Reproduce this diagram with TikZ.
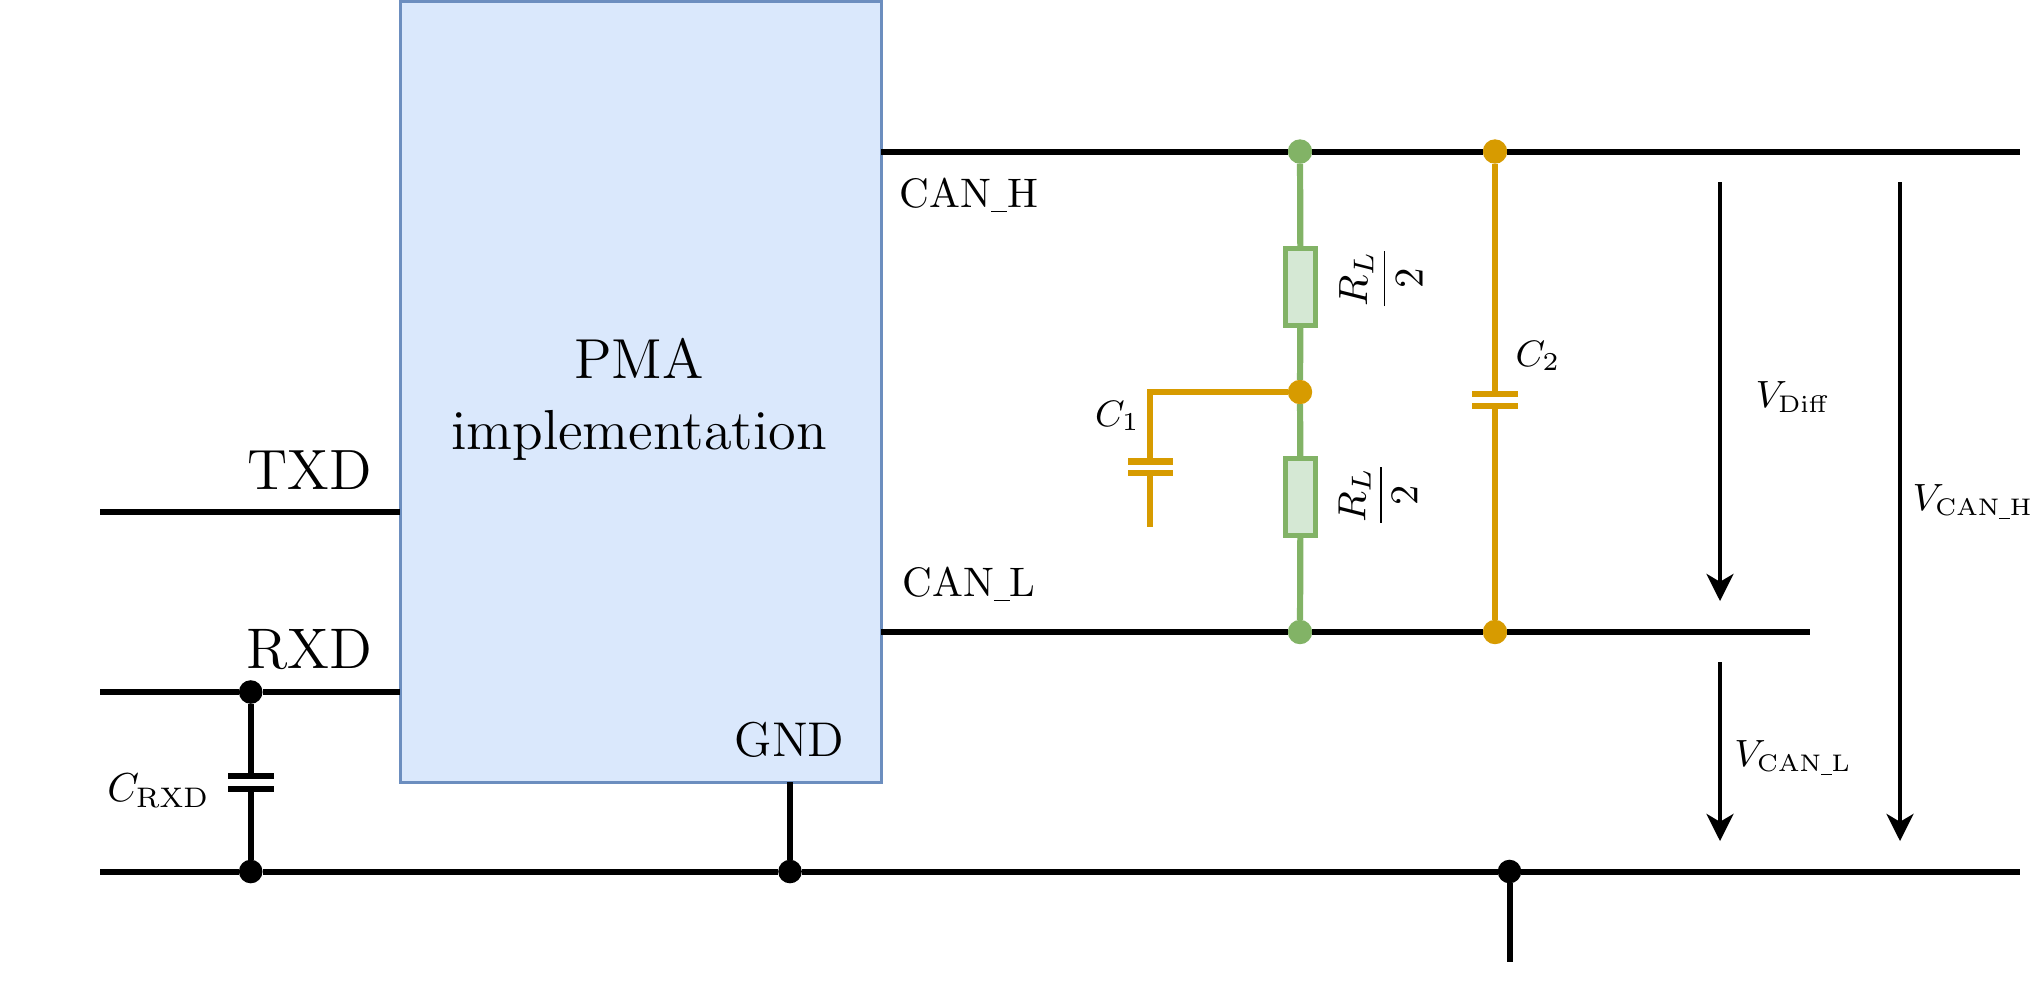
\RequirePackage{fix-cm}
\documentclass[tikz,border=0pt]{standalone}
\usepackage{amsmath}
\usetikzlibrary{arrows.meta}
\DeclareMathSizes{9.5}{9.5}{6}{5}
\definecolor{boxfill}{HTML}{DAE8FC}
\definecolor{boxline}{HTML}{6C8EBF}
\definecolor{resfill}{HTML}{D5E8D4}
\definecolor{resline}{HTML}{82B366}
\definecolor{capline}{HTML}{D79B00}
\newcommand{\usc}[1]{\rule[-.25ex]{#1}{.35pt}}
\tikzset{
  every node/.style={outer sep=0pt},
  wire/.style={line width=1.5pt,black},
  gwire/.style={line width=1.55pt,resline},
  owire/.style={line width=1.5pt,capline},
  dotb/.style={circle,fill=black,inner sep=0pt,minimum size=5.9pt},
  dotg/.style={circle,fill=resline,inner sep=0pt,minimum size=6.1pt},
  doto/.style={circle,fill=capline,inner sep=0pt,minimum size=6.1pt},
  plateb/.style={rectangle,fill=black,inner sep=0pt,minimum width=11.4pt,minimum height=1.5pt},
  plateo/.style={rectangle,fill=capline,inner sep=0pt,minimum width=11.4pt,minimum height=1.55pt},
  resbox/.style={rectangle,draw=resline,fill=resfill,line width=1.3pt,inner sep=0pt,minimum width=7.4pt,minimum height=19.3pt},
  varrow/.style={line width=.85pt,-{Stealth[length=6.8pt,width=6.8pt,inset=2pt]}},
  txt/.style={inner sep=0pt,align=center}
}
\begin{document}
\begin{tikzpicture}[x=0.25pt,y=-0.25pt]
\useasboundingbox (0,0) rectangle (2037,990);
\begin{scope}[yshift=-0.25pt]
% main block
\node[rectangle,draw=boxline,fill=boxfill,line width=.75pt,inner sep=0pt,minimum width=120.25pt,minimum height=195.25pt] (pma) at (640.5,390.5) {};
\node[txt,font=\fontsize{14.1}{17.7}\selectfont] (pmat) at (639,398) {PMA\\implementation};
% free ends
\coordinate (txdl) at (100,510.5);
\coordinate (txdr) at (400,510.5);
\coordinate (rxdl) at (100,691);
\coordinate (rxdr) at (400,691);
\coordinate (gndl) at (100,870.5);
\coordinate (gndr) at (2020,870.5);
\coordinate (hl) at (881,150.5);
\coordinate (hr) at (2020,150.5);
\coordinate (ll) at (881,631);
\coordinate (lr) at (1810,631);
\coordinate (pgnd) at (790,781);
\coordinate (earth) at (1509.5,961);
\coordinate (c1end) at (1150.4,526);
\coordinate (c1bend) at (1150.4,391);
% dots
\node[dotb] (d1) at (250.7,691) {};
\node[dotb] (d2) at (250.7,870.5) {};
\node[dotb] (d3) at (790,870.5) {};
\node[dotb] (d4) at (1509.5,870.5) {};
\node[dotg] (g1) at (1300,150.5) {};
\node[dotg] (g2) at (1300,631) {};
\node[doto] (omid) at (1300,391) {};
\node[doto] (o1) at (1495,150.5) {};
\node[doto] (o2) at (1495,631) {};
% wires
\draw[wire] (txdl) -- (txdr);
\draw[wire] (rxdl) -- (d1);
\draw[wire] (d1) -- (rxdr);
\draw[wire] (gndl) -- (d2);
\draw[wire] (d2) -- (d3);
\draw[wire] (d3) -- (d4);
\draw[wire] (d4) -- (gndr);
\draw[wire] (hl) -- (g1);
\draw[wire] (g1) -- (o1);
\draw[wire] (o1) -- (hr);
\draw[wire] (ll) -- (g2);
\draw[wire] (g2) -- (o2);
\draw[wire] (o2) -- (lr);
\draw[wire] (pgnd) -- (d3);
\draw[wire] (d4) -- (earth);
% C_RXD
\node[plateb] (cr1) at (250.7,775) {};
\node[plateb] (cr2) at (250.7,788) {};
\draw[wire] (d1) -- (cr1);
\draw[wire] (cr2) -- (d2);
% resistors
\node[resbox] (r1) at (1300.5,286.2) {};
\node[resbox] (r2) at (1300.5,496.2) {};
\draw[gwire] (g1) -- (r1);
\draw[gwire] (r1) -- (omid);
\draw[gwire] (omid) -- (r2);
\draw[gwire] (r2) -- (g2);
% C1
\node[plateo] (c1a) at (1150.4,460.5) {};
\node[plateo] (c1b) at (1150.4,472.2) {};
\draw[owire,line join=miter] (omid) -- (c1bend) -- (c1a);
\draw[owire] (c1b) -- (c1end);
% C2
\node[plateo] (c2a) at (1495,393.2) {};
\node[plateo] (c2b) at (1495,404.8) {};
\draw[owire] (o1) -- (c2a);
\draw[owire] (c2b) -- (o2);
% voltage arrows
\coordinate (a1s) at (1720,181);
\coordinate (a1e) at (1720,600);
\coordinate (a2s) at (1720,661);
\coordinate (a2e) at (1720,840);
\coordinate (a3s) at (1900,181);
\coordinate (a3e) at (1900,840);
\draw[varrow] (a1s) -- (a1e);
\draw[varrow] (a2s) -- (a2e);
\draw[varrow] (a3s) -- (a3e);
% labels
\node[txt,font=\fontsize{14.2}{17}\selectfont] (ltxd) at (309.5,469) {TXD};
\node[txt,font=\fontsize{14.3}{17}\selectfont] (lrxd) at (309.5,649) {RXD};
\node[txt,font=\fontsize{12.2}{14}\selectfont] (lgnd) at (789.5,739) {GND};
\node[txt,font=\fontsize{10.3}{12}\selectfont] (lh) at (969,194) {CAN\usc{4pt}H};
\node[txt,font=\fontsize{10.3}{12}\selectfont] (ll2) at (969,583) {CAN\usc{4pt}L};
\node[txt,font=\fontsize{10.1}{14}\selectfont] (lcr) at (158.5,790) {$C_{\mathrm{RXD}}$};
\node[txt,font=\fontsize{9.2}{12}\selectfont] (lc1) at (1117.5,415) {$C_1$};
\node[txt,font=\fontsize{9.2}{12}\selectfont] (lc2) at (1538,355) {$C_2$};
\node[txt,rotate=90,font=\fontsize{10.2}{14}\selectfont] (lr1) at (1381,277.5) {$\dfrac{R_L}{2}$};
\node[txt,rotate=90,font=\fontsize{9.8}{13}\selectfont] (lr2) at (1378,494) {$\dfrac{R_L}{2}$};
\node[txt,font=\fontsize{9.5}{12}\selectfont] (lvd) at (1793,396) {$V_{\mathrm{Diff}}$};
\node[txt,font=\fontsize{9.5}{12}\selectfont] (lvh) at (1973,501) {$V_{\mathrm{CAN\usc{2.6pt}H}}$};
\node[txt,font=\fontsize{9.5}{12}\selectfont] (lvl) at (1793,757) {$V_{\mathrm{CAN\usc{2.6pt}L}}$};
\end{scope}
\end{tikzpicture}
\end{document}
